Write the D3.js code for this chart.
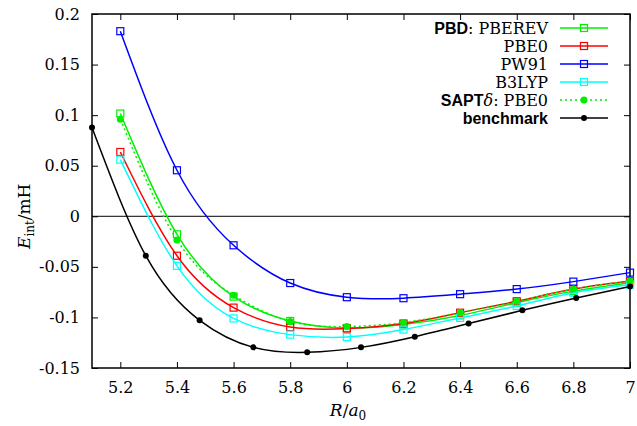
<!DOCTYPE html>
<html><head><meta charset="utf-8">
<script src="https://cdn.jsdelivr.net/npm/d3@7"></script>
<style>
body{margin:0;background:#fff;}
svg{display:block;}
text{font-family:"DejaVu Serif",serif;fill:#000;}
</style></head>
<body><svg id="c" width="637" height="426"></svg>
<script>
const R = [5.2,5.4,5.6,5.8,6.0,6.2,6.4,6.6,6.8,7.0];
const pberev = [0.1016,-0.0178,-0.0794,-0.1035,-0.1105,-0.107,-0.098,-0.0855,-0.074,-0.0656];
const pbe0   = [0.0636,-0.039,-0.0903,-0.1095,-0.111,-0.106,-0.0953,-0.084,-0.072,-0.064];
const pw91   = [0.183,0.0455,-0.0287,-0.066,-0.080,-0.081,-0.077,-0.072,-0.0646,-0.0557];
const b3lyp  = [0.056,-0.049,-0.101,-0.117,-0.1194,-0.112,-0.1005,-0.0887,-0.0755,-0.0676];
const sapt   = [0.096,-0.0234,-0.078,-0.104,-0.109,-0.105,-0.0953,-0.084,-0.072,-0.064];
const benchR = [5.1,5.29,5.48,5.67,5.86,6.05,6.24,6.43,6.62,6.81,7.0];
const bench  = [0.0877,-0.039,-0.1029,-0.1296,-0.1345,-0.1296,-0.119,-0.106,-0.093,-0.0808,-0.0695];
const xTicks = [5.2,5.4,5.6,5.8,6,6.2,6.4,6.6,6.8,7];
const yTicks = [0.2,0.15,0.1,0.05,0,-0.05,-0.1,-0.15];

const svg = d3.select("#c");
const L=92, Rt=630, T=14, B=368;
const x = d3.scaleLinear().domain([5.1,7]).range([L,Rt]);
const y = d3.scaleLinear().domain([-0.15,0.2]).range([B,T]);

// zero line
svg.append("line").attr("x1",L).attr("x2",Rt).attr("y1",y(0)).attr("y2",y(0))
  .attr("stroke","#000").attr("stroke-width",1);

// axes (ticks inward, mirrored)
const fmt = d => String(+d.toFixed(2));
svg.append("g").attr("transform",`translate(0,${B})`)
  .call(d3.axisBottom(x).tickValues(xTicks).tickSize(-6).tickPadding(14).tickFormat(fmt))
  .call(g=>{g.select(".domain").remove();g.selectAll("text").attr("font-size",16).attr("font-family","DejaVu Serif");});
svg.append("g").attr("transform",`translate(0,${T})`)
  .call(d3.axisTop(x).tickValues(xTicks).tickSize(-6).tickFormat(""))
  .call(g=>g.select(".domain").remove());
svg.append("g").attr("transform",`translate(${L},0)`)
  .call(d3.axisLeft(y).tickValues(yTicks).tickSize(-6).tickPadding(12).tickFormat(fmt))
  .call(g=>{g.select(".domain").remove();g.selectAll("text").attr("font-size",16).attr("font-family","DejaVu Serif");});
svg.append("g").attr("transform",`translate(${Rt},0)`)
  .call(d3.axisRight(y).tickValues(yTicks).tickSize(-6).tickFormat(""))
  .call(g=>g.select(".domain").remove());
svg.selectAll(".tick line").attr("stroke","#000").attr("stroke-width",1);
svg.append("rect").attr("x",L).attr("y",T).attr("width",Rt-L).attr("height",B-T)
  .attr("fill","none").attr("stroke","#000").attr("stroke-width",1.5);

const line = d3.line().curve(d3.curveNatural).x(d=>x(d[0])).y(d=>y(d[1]));
const series = [
  {vals:pberev, xs:R, color:"#00ee00", marker:"sq", dash:null},
  {vals:pbe0, xs:R, color:"#ff0000", marker:"sq", dash:null},
  {vals:pw91, xs:R, color:"#0000ff", marker:"sq", dash:null},
  {vals:b3lyp, xs:R, color:"#00ffff", marker:"sq", dash:null},
  {vals:sapt, xs:R, color:"#00ee00", marker:"dot", dash:"2,3"},
  {vals:bench, xs:benchR, color:"#000000", marker:"bk", dash:null}
];
function marker(g, mx, my, s){
  if(s.marker==="sq"){
    g.append("rect").attr("x",mx-3.5).attr("y",my-3.5).attr("width",7).attr("height",7)
      .attr("fill","none").attr("stroke",s.color).attr("stroke-width",1.2);
  } else if(s.marker==="dot"){
    g.append("circle").attr("cx",mx).attr("cy",my).attr("r",3.5).attr("fill",s.color);
  } else {
    g.append("circle").attr("cx",mx).attr("cy",my).attr("r",3).attr("fill","#000");
  }
}
const plot = svg.append("g");
series.forEach(s=>{
  const pts = s.xs.map((v,i)=>[v,s.vals[i]]);
  plot.append("path").attr("d",line(pts)).attr("fill","none").attr("stroke",s.color)
    .attr("stroke-width",1.5).attr("stroke-dasharray",s.dash);
  pts.forEach(p=>marker(plot,x(p[0]),y(p[1]),s));
});

// legend
const leg = svg.append("g");
const labels = [
  [["PBD","b"],[": PBEREV","s"]],
  [["PBE0","s"]],
  [["PW91","s"]],
  [["B3LYP","s"]],
  [["SAPT","b"],["δ","i"],[": PBE0","s"]],
  [["benchmark","b"]]
];
labels.forEach((parts,i)=>{
  const yy = 28 + i*18;
  const t = leg.append("text").attr("x",548).attr("y",yy+5.5).attr("text-anchor","end").attr("font-size",16);
  parts.forEach(p=>{
    const ts = t.append("tspan").text(p[0]);
    if(p[1]==="b") ts.attr("font-family","Liberation Sans, Arial, sans-serif").attr("font-weight","bold");
    if(p[1]==="i") ts.attr("font-style","italic");
  });
  const s = series[i];
  leg.append("line").attr("x1",560).attr("x2",608).attr("y1",yy).attr("y2",yy)
    .attr("stroke",s.color).attr("stroke-width",1.5).attr("stroke-dasharray",s.dash);
  marker(leg,584,yy,s);
});

// axis titles
const yl = svg.append("text").attr("transform",`translate(30,${y(0)}) rotate(-90)`)
  .attr("text-anchor","middle").attr("font-size",17);
yl.append("tspan").text("E").attr("font-style","italic");
yl.append("tspan").text("int").attr("font-size",12).attr("dy",4);
yl.append("tspan").text("/mH").attr("dy",-4);
const xl = svg.append("text").attr("x",348).attr("y",416).attr("text-anchor","middle").attr("font-size",17);
xl.append("tspan").text("R").attr("font-style","italic");
xl.append("tspan").text("/");
xl.append("tspan").text("a").attr("font-style","italic");
xl.append("tspan").text("0").attr("font-size",12).attr("dy",4);
</script></body></html>
